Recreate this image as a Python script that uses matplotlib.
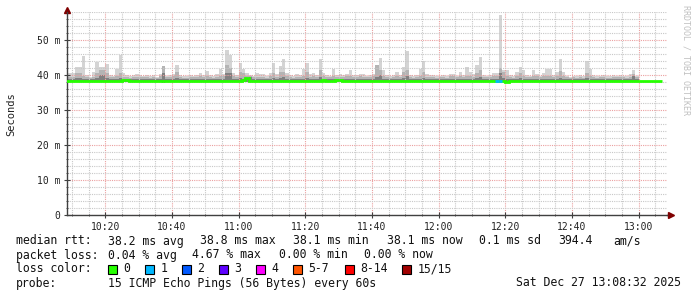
import matplotlib.pyplot as plt
import matplotlib.dates as mdates
from matplotlib.patches import Rectangle
from matplotlib.ticker import MultipleLocator, FuncFormatter
from datetime import datetime, timedelta

plt.rcParams['font.family'] = 'DejaVu Sans Mono'

# smoke: one value per minute bin starting 10:08 (ms)
smoke_max = [40.5,
    40.5, 40.5, 42.4, 42.4, 45.4, 40.0, 39.5, 41.0, 43.8, 42.4,
    42.4, 43.1, 40.0, 39.8, 41.8, 45.7, 40.6, 40.0, 39.6, 40.0,
    40.2, 40.0, 39.8, 40.1, 39.7, 40.0, 39.5, 40.3, 42.6, 39.8,
    40.0, 40.3, 42.9, 40.0, 39.7, 39.6, 40.0, 39.8, 40.0, 40.6,
    39.9, 41.2, 40.0, 39.7, 40.2, 41.8, 40.3, 47.1, 45.7, 40.6,
    40.0, 43.3, 41.8, 40.6, 40.0, 39.8, 40.5, 40.4, 40.2, 39.7,
    40.6, 43.5, 40.4, 42.5, 44.5, 40.6, 40.0, 39.7, 40.2, 40.0,
    41.8, 43.5, 40.3, 40.6, 40.0, 44.5, 40.5, 40.0, 39.8, 41.8,
    40.0, 40.2, 39.9, 40.3, 41.4, 40.0, 40.1, 40.3, 40.3, 39.8,
    40.0, 40.3, 42.9, 44.8, 41.4, 40.0, 39.7, 40.0, 41.0, 40.0,
    42.4, 46.9, 40.0, 39.7, 40.0, 41.8, 44.0, 40.2, 39.9, 40.0,
    39.6, 39.8, 40.0, 39.7, 40.3, 40.3, 39.8, 41.0, 40.0, 42.2,
    41.0, 40.3, 42.9, 45.1, 40.0, 39.8, 40.0, 40.5, 40.5, 57.1,
    41.4, 41.4, 40.0, 39.7, 41.0, 42.4, 41.4, 40.0, 39.8, 41.4,
    40.4, 39.8, 40.5, 41.8, 41.8, 40.0, 41.0, 44.5, 41.0, 39.8,
    39.5, 39.8, 39.6, 40.0, 39.7, 44.0, 41.8, 40.0, 39.6, 39.8,
    40.0, 39.7, 39.6, 40.0, 39.8, 40.0, 39.8, 39.6, 40.2, 41.4, 39.8]

smoke_mid = [39.4,
    39.4, 39.4, 40.5, 40.5, 39.6, 39.3, 39.2, 39.5, 40.5, 41.5,
    41.5, 40.5, 39.4, 39.3, 39.6, 40.5, 39.5, 39.4, 39.2, 39.4,
    39.5, 39.4, 39.3, 39.5, 39.2, 39.4, 39.2, 39.6, 42.6, 39.3,
    39.4, 39.6, 40.8, 39.4, 39.2, 39.2, 39.4, 39.3, 39.4, 39.6,
    39.4, 39.8, 39.4, 39.2, 39.5, 39.8, 39.6, 43.0, 42.0, 39.6,
    39.4, 40.8, 40.5, 39.6, 39.6, 39.3, 39.5, 39.5, 39.4, 39.2,
    39.6, 40.6, 39.5, 40.8, 41.0, 39.6, 39.4, 39.2, 39.4, 39.4,
    39.8, 41.0, 39.5, 39.6, 39.4, 41.3, 39.6, 39.4, 39.3, 39.8,
    39.4, 39.5, 39.3, 39.6, 39.8, 39.4, 39.5, 39.6, 39.5, 39.3,
    39.4, 39.6, 42.9, 41.5, 39.8, 39.4, 39.2, 39.4, 39.8, 39.4,
    40.8, 41.5, 39.4, 39.2, 39.4, 39.8, 40.8, 39.5, 39.3, 39.4,
    39.2, 39.3, 39.4, 39.2, 39.6, 39.6, 39.3, 39.8, 39.4, 39.8,
    39.8, 39.5, 40.5, 41.5, 39.4, 39.3, 39.4, 39.6, 39.6, 42.0,
    40.8, 39.8, 39.4, 39.2, 39.8, 40.5, 39.8, 39.4, 39.3, 39.8,
    39.6, 39.3, 39.6, 39.8, 39.8, 39.4, 39.8, 41.2, 39.8, 39.3,
    39.2, 39.3, 39.2, 39.4, 39.2, 40.6, 39.8, 39.4, 39.2, 39.3,
    39.4, 39.2, 39.2, 39.4, 39.3, 39.4, 39.3, 39.2, 39.5, 40.4, 39.3]

smoke_inner = [38.9,
    38.9, 38.9, 39.1, 39.1, 38.9, 38.8, 38.8, 38.9, 39.2, 40.0,
    40.0, 39.2, 38.9, 38.8, 38.9, 39.1, 38.9, 38.9, 38.8, 38.9,
    38.9, 38.9, 38.8, 38.9, 38.8, 38.9, 38.8, 38.9, 40.5, 38.8,
    38.9, 38.9, 39.2, 38.9, 38.8, 38.8, 38.9, 38.8, 38.9, 38.9,
    38.9, 39.0, 38.9, 38.8, 38.9, 39.0, 38.9, 40.5, 40.5, 38.9,
    38.9, 39.2, 39.0, 38.9, 39.5, 38.8, 38.9, 38.9, 38.9, 38.8,
    38.9, 39.1, 38.9, 39.2, 39.5, 38.9, 38.9, 38.8, 38.9, 38.9,
    39.0, 39.2, 38.9, 38.9, 38.9, 39.3, 38.9, 38.9, 38.8, 39.0,
    38.9, 38.9, 38.8, 38.9, 39.0, 38.9, 38.9, 38.9, 38.9, 38.8,
    38.9, 38.9, 39.3, 40.0, 39.0, 38.9, 38.8, 38.9, 39.0, 38.9,
    39.2, 39.8, 38.9, 38.8, 38.9, 39.0, 39.2, 38.9, 38.8, 38.9,
    38.8, 38.8, 38.9, 38.8, 38.9, 38.9, 38.8, 39.0, 38.9, 39.0,
    39.0, 38.9, 39.1, 39.3, 38.9, 38.8, 38.9, 38.9, 38.9, 40.5,
    39.2, 39.0, 38.9, 38.8, 39.0, 39.1, 39.0, 38.9, 38.8, 39.0,
    38.9, 38.8, 38.9, 39.0, 39.0, 38.9, 39.0, 39.2, 39.0, 38.8,
    38.8, 38.8, 38.8, 38.9, 38.8, 39.1, 39.0, 38.9, 38.8, 38.8,
    38.9, 38.8, 38.8, 38.9, 38.8, 38.9, 38.8, 38.8, 38.9, 39.8, 38.8]

smoke_min = [37.9,
    37.9, 37.9, 37.9, 37.9, 37.9, 37.9, 37.9, 37.9, 37.9, 37.9,
    37.9, 37.9, 37.9, 37.9, 37.9, 37.9, 37.9, 37.9, 37.9, 37.9,
    37.9, 37.9, 37.9, 37.9, 37.9, 37.9, 37.9, 37.9, 37.7, 37.9,
    37.9, 37.9, 37.9, 37.9, 37.9, 37.9, 37.9, 37.9, 37.9, 37.9,
    37.9, 37.9, 37.9, 37.9, 37.9, 37.9, 37.9, 37.9, 37.9, 37.9,
    37.9, 37.9, 37.9, 37.9, 37.9, 37.9, 37.9, 37.9, 37.9, 37.9,
    37.9, 37.9, 37.9, 37.9, 37.9, 37.9, 37.9, 37.9, 37.9, 37.9,
    37.9, 37.9, 37.9, 37.9, 37.9, 37.9, 37.9, 37.9, 37.9, 37.9,
    37.9, 37.9, 37.9, 37.9, 37.9, 37.9, 37.9, 37.9, 37.9, 37.9,
    37.9, 37.9, 37.9, 37.9, 37.9, 37.9, 37.9, 37.9, 37.9, 37.9,
    37.9, 37.9, 37.9, 37.9, 37.9, 37.9, 37.9, 37.9, 37.9, 37.9,
    37.9, 37.9, 37.9, 37.9, 37.9, 37.9, 37.9, 37.9, 37.9, 37.9,
    37.9, 37.9, 37.9, 37.9, 37.9, 37.9, 37.9, 37.9, 37.9, 37.9,
    37.9, 37.9, 37.9, 37.9, 37.9, 37.9, 37.9, 37.9, 37.9, 37.9,
    37.9, 37.9, 37.9, 37.9, 37.9, 37.9, 37.9, 37.9, 37.9, 37.9,
    37.9, 37.9, 37.9, 37.9, 37.9, 37.9, 37.9, 37.9, 37.9, 37.9,
    37.9, 37.9, 37.9, 37.9, 37.9, 37.9, 37.9, 37.9, 37.9, 37.9, 37.9]

# median rtt per minute bin (ms)
median = [
    38.2, 38.2, 38.2, 38.2, 38.2, 38.2, 38.2, 38.2, 38.2, 38.2,
    38.2, 38.2, 38.2, 38.2, 38.3, 38.4, 38.2, 38.5, 38.5, 38.3,
    38.2, 38.2, 38.2, 38.2, 38.4, 38.2, 38.2, 38.2, 38.2, 38.2,
    38.2, 38.2, 38.4, 38.3, 38.4, 38.2, 38.2, 38.2, 38.2, 38.2,
    38.2, 38.2, 38.2, 38.2, 38.2, 38.2, 38.2, 38.2, 38.2, 38.2,
    38.2, 38.2, 38.2, 38.6, 39.2, 38.3, 38.2, 38.2, 38.2, 38.2,
    38.2, 38.4, 38.2, 38.2, 38.2, 38.2, 38.2, 38.2, 38.2, 38.2,
    38.2, 38.2, 38.2, 38.2, 38.2, 38.2, 38.4, 38.5, 38.3, 38.2,
    38.2, 38.5, 38.6, 38.2, 38.2, 38.2, 38.2, 38.2, 38.2, 38.2,
    38.2, 38.2, 38.2, 38.2, 38.2, 38.2, 38.2, 38.2, 38.2, 38.4,
    38.3, 38.2, 38.2, 38.2, 38.2, 38.2, 38.4, 38.4, 38.2, 38.2,
    38.2, 38.2, 38.2, 38.2, 38.2, 38.2, 38.2, 38.2, 38.2, 38.4,
    38.3, 38.2, 38.2, 38.2, 38.2, 38.2, 38.2, 38.2, 38.2, 38.2,
    38.2, 38.2, 38.1, 38.2, 38.2, 38.2, 38.2, 38.2, 38.2, 38.2,
    38.2, 38.2, 38.2, 38.4, 38.2, 38.2, 38.2, 38.2, 38.2, 38.2,
    38.2, 38.2, 38.2, 38.2, 38.2, 38.2, 38.2, 38.2, 38.2, 38.2,
    38.2, 38.2, 38.2, 38.2, 38.2, 38.2, 38.2, 38.2, 38.2, 38.2,
    38.2, 38.2, 38.2, 38.2, 38.2, 38.2, 38.2, 38.2, 38.2]

loss_bins = [129, 130]
loss_counts = [1, 1]

loss_labels = ['0', '1', '2', '3', '4', '5-7', '8-14', '15/15']
loss_colors = ['#26ff00', '#00b8ff', '#0059ff', '#5e00ff', '#ff00ff', '#ff5500', '#ff0000', '#a00000']

W, H = 697, 297
fig = plt.figure(figsize=(W / 100, H / 100), dpi=100)
ax = fig.add_axes([67 / W, 1 - 215 / H, 600 / W, 203 / H])

t_start = datetime(2025, 12, 27, 10, 8, 32)
t_end = t_start + timedelta(hours=3)
bin0 = datetime(2025, 12, 27, 10, 8)

smoke_edges = mdates.date2num([bin0 + timedelta(minutes=i) for i in range(len(smoke_max) + 1)])
med_edges = mdates.date2num([bin0 + timedelta(minutes=i) for i in range(len(median) + 1)])

# smoke bands, light to dark
ax.stairs(smoke_max, smoke_edges, baseline=smoke_min, fill=True, color='#d4d4d4', lw=0, zorder=1)
ax.stairs(smoke_mid, smoke_edges, baseline=smoke_min, fill=True, color='#b4b4b4', lw=0, zorder=1)
ax.stairs(smoke_inner, smoke_edges, baseline=smoke_min, fill=True, color='#808080', lw=0, zorder=1)

# median line coloured by loss
ax.stairs(median, med_edges, baseline=None, color=loss_colors[0], lw=2, zorder=3)
for b, c in zip(loss_bins, loss_counts):
    ax.stairs([median[b]], med_edges[b:b + 2], baseline=None, color=loss_colors[c], lw=2, zorder=4)

ax.set_xlim(mdates.date2num(t_start), mdates.date2num(t_end))
ax.set_ylim(0, 58)

ax.xaxis.set_major_locator(mdates.MinuteLocator(byminute=[0, 20, 40]))
ax.xaxis.set_minor_locator(mdates.MinuteLocator(byminute=range(0, 60, 5)))
ax.xaxis.set_major_formatter(mdates.DateFormatter('%H:%M'))
ax.yaxis.set_major_locator(MultipleLocator(10))
ax.yaxis.set_minor_locator(MultipleLocator(2))
ax.yaxis.set_major_formatter(FuncFormatter(lambda v, p: '0' if v == 0 else f'{v:.0f} m'))

ax.set_axisbelow('line')
ax.grid(which='minor', color='#c8c8c8', ls=(0, (1, 1)), lw=0.8)
ax.grid(which='major', color='#eba0a0', ls=(0, (1, 1)), lw=0.8)

for s in ['top', 'right']:
    ax.spines[s].set_visible(False)
for s in ['left', 'bottom']:
    ax.spines[s].set_color('#404040')
    ax.spines[s].set_linewidth(1)

ax.tick_params(which='major', direction='inout', length=4, color='#404040', labelsize=7, labelcolor='#222222')
ax.tick_params(which='minor', direction='inout', length=2, color='#404040')
ax.tick_params(axis='y', pad=3)
ax.tick_params(axis='x', pad=3)

# axis arrows
ax.plot([1, 1.0067], [0, 0], transform=ax.transAxes, clip_on=False, color='#404040', lw=1)
ax.plot([0, 0], [1, 1.01], transform=ax.transAxes, clip_on=False, color='#404040', lw=1)
ax.plot([1.0067], [0], marker='>', ms=4, color='#800000', transform=ax.transAxes, clip_on=False)
ax.plot([0], [1.01], marker='^', ms=4, color='#800000', transform=ax.transAxes, clip_on=False)

def px(x, y):
    return x / W, 1 - y / H

fig.text(*px(11, 114), 'Seconds', rotation=90, ha='center', va='center', fontsize=7.5, color='#222222')
fig.text(*px(686, 60), 'RRDTOOL / TOBI OETIKER', rotation=270, ha='center', va='center',
         fontsize=6, color='#c0c0c0')

fs = 8.3
tc = '#111111'
rows = [
    (241, [(15.6, 'median rtt:'), (107.6, '38.2 ms avg'), (200, '38.8 ms max'), (293, '38.1 ms min'),
           (387, '38.1 ms now'), (479, '0.1 ms sd'), (558, '394.4'), (613, 'am/s')]),
    (255, [(15.6, 'packet loss:'), (107.6, '0.04 % avg'), (192, '4.67 % max'), (279, '0.00 % min'),
           (364, '0.00 % now')]),
    (269, [(15.6, 'loss color:')]),
    (283, [(15.6, 'probe:'), (107.6, '15 ICMP Echo Pings (56 Bytes) every 60s')]),
]
for y, items in rows:
    for x, s in items:
        fig.text(*px(x, y), s, ha='left', va='center', fontsize=fs, color=tc)
fig.text(*px(681, 283), 'Sat Dec 27 13:08:32 2025', ha='right', va='center', fontsize=fs, color=tc)

box_x = [108, 145, 182, 219, 256, 293, 345, 402]
for bx, lab, col in zip(box_x, loss_labels, loss_colors):
    fig.patches.append(Rectangle((bx / W, 1 - 274 / H), 9 / W, 9 / H, transform=fig.transFigure,
                                 facecolor=col, edgecolor='#000000', lw=0.8))
    fig.text(*px(bx + 15.6, 269), lab, ha='left', va='center', fontsize=fs, color=tc)

fig.savefig('out.png', dpi=100, facecolor='white')
